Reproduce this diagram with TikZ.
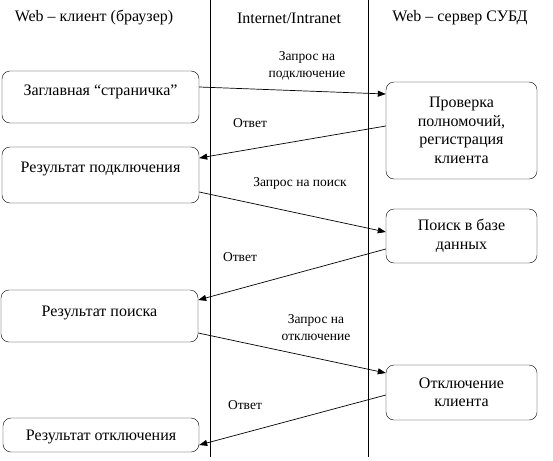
\documentclass[tikz,border=0pt]{standalone}
\usepackage{fontspec}
\setmainfont{Liberation Serif}
\usetikzlibrary{arrows.meta}

\begin{document}
\begin{tikzpicture}[
  x=1pt, y=-1pt,
  lbox/.style={draw, rounded corners=8pt, minimum width=197pt, inner ysep=0pt, text height=24pt, text depth=28pt, font=\fontsize{16}{18}\selectfont},
  rbox/.style={draw, rounded corners=8pt, minimum width=151pt, align=center, font=\fontsize{16}{18.5}\selectfont},
  head/.style={font=\fontsize{16}{18}\selectfont},
  lab/.style={align=center, font=\fontsize{13.5}{17}\selectfont},
  arrow/.style={-{Triangle[length=8pt,width=6pt]}, line width=0.7pt}
]
  \useasboundingbox (0,0) rectangle (553,460);

  % swim lanes
  \draw[line width=0.8pt] (210.5,0) -- (210.5,457);
  \draw[line width=0.8pt] (368.5,0) -- (368.5,457);

  \node[head] (client) at (94,18) {Web – клиент (браузер)};
  \node[head] (net) at (289,18) {Internet/Intranet};
  \node[head] (server) at (460,18) {Web – сервер СУБД};

  % client side
  \node[lbox, anchor=base] (home) at (100.5,95) {Заглавная “страничка”};
  \node[lbox, anchor=base, text height=25pt, text depth=31pt] (conn) at (100.5,172) {Результат подключения};
  \node[lbox, anchor=base, text height=26pt, text depth=26pt] (found) at (99.5,316) {Результат поиска};
  \node[lbox, anchor=base, minimum width=196pt, text height=22pt, text depth=12pt] (done) at (101,440) {Результат отключения};

  % server side
  \node[rbox, minimum height=97pt] (auth) at (461.5,130.5) {Проверка\\полномочий,\\регистрация\\клиента};
  \node[rbox, minimum height=54pt] (search) at (461.5,236) {Поиск в базе\\данных};
  \node[rbox, minimum height=55pt] (logout) at (461.5,392.5) {Отключение\\клиента};

  \draw[arrow] ([yshift=10pt]home.east) -- ([yshift=36.5pt]auth.west);
  \draw[arrow] ([yshift=4.5pt]auth.west) -- ([yshift=17pt]conn.east);
  \draw[arrow] ([yshift=-17pt]conn.east) -- ([yshift=4pt]search.west);
  \draw[arrow] ([yshift=-13pt]search.west) -- ([yshift=16pt]found.east);
  \draw[arrow] ([yshift=-17pt]found.east) -- ([yshift=19.5pt]logout.west);
  \draw[arrow] ([yshift=-2.5pt]logout.west) -- ([yshift=-10pt]done.east);

  \node[lab] (req1) at (307,65.5) {Запрос на\\подключение};
  \node[lab] (ans1) at (250,123) {Ответ};
  \node[lab] (req2) at (300,183) {Запрос на поиск};
  \node[lab] (ans2) at (240,257) {Ответ};
  \node[lab] (req3) at (316,328) {Запрос на\\отключение};
  \node[lab] (ans3) at (245,405) {Ответ};
\end{tikzpicture}
\end{document}
